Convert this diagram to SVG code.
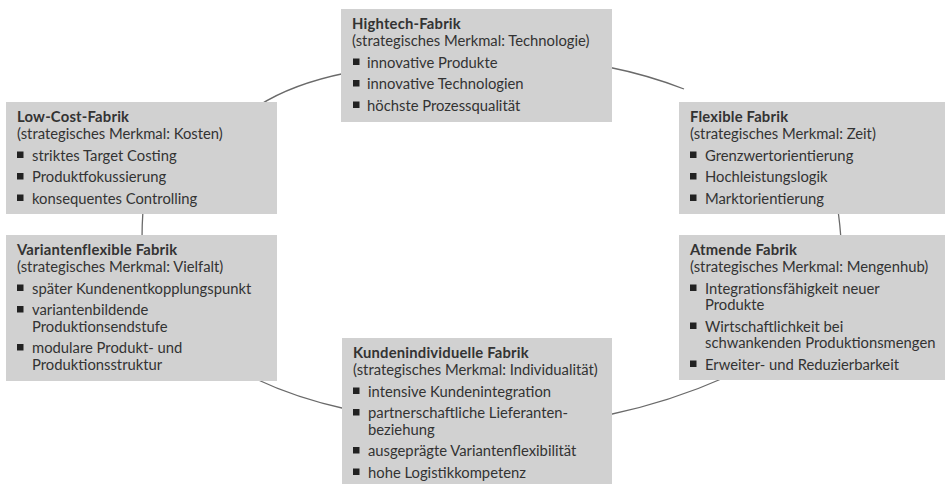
<svg xmlns="http://www.w3.org/2000/svg" width="945" height="484" viewBox="0 0 945 484">
  <style>
    .box { fill: #d1d1d1; }
    .link { fill: none; stroke: #6a6a6a; stroke-width: 1.3; }
    text { font-family: Lato, "Open Sans", "Liberation Sans", sans-serif; font-size: 14.8px; fill: #333333; }
    .title { font-weight: bold; letter-spacing: 0.2px; }
    .dot { fill: #222222; }
  </style>
  <defs>
    <rect id="bullet" width="6.5" height="6.5" class="dot"/>
  </defs>

  <rect width="945" height="484" fill="#ffffff"/>

  <!-- ring of connecting arcs, drawn beneath the boxes -->
  <g id="connectors">
    <path class="link" d="M258,106 Q292,84 346,73"/>
    <path class="link" d="M608,67 Q648,75 684,89"/>
    <path class="link" d="M838,210 Q840,225 841,239"/>
    <path class="link" d="M726,377 Q670,402 608,415"/>
    <path class="link" d="M256,379 Q296,398 346,409"/>
    <path class="link" d="M143,210 Q142,225 142,239"/>
  </g>

  <g id="hightech">
    <rect class="box" x="341" y="9" width="271" height="113"/>
    <text x="352" y="29"><tspan class="title">Hightech-Fabrik</tspan><tspan x="352" dy="17">(strategisches Merkmal: Technologie)</tspan></text>
    <use href="#bullet" x="353" y="58.5"/>
    <text x="367" y="67.5">innovative Produkte</text>
    <use href="#bullet" x="353" y="80"/>
    <text x="367" y="89">innovative Technologien</text>
    <use href="#bullet" x="353" y="101.5"/>
    <text x="367" y="110.5">höchste Prozessqualität</text>
  </g>

  <g id="lowcost">
    <rect class="box" x="6" y="102" width="271" height="112"/>
    <text x="17" y="122"><tspan class="title">Low-Cost-Fabrik</tspan><tspan x="17" dy="17">(strategisches Merkmal: Kosten)</tspan></text>
    <use href="#bullet" x="17" y="151.5"/>
    <text x="32" y="160.5">striktes Target Costing</text>
    <use href="#bullet" x="17" y="173"/>
    <text x="32" y="182">Produktfokussierung</text>
    <use href="#bullet" x="17" y="194.5"/>
    <text x="32" y="203.5">konsequentes Controlling</text>
  </g>

  <g id="flexibel">
    <rect class="box" x="679" y="102" width="266" height="112"/>
    <text x="690" y="122"><tspan class="title">Flexible Fabrik</tspan><tspan x="690" dy="17">(strategisches Merkmal: Zeit)</tspan></text>
    <use href="#bullet" x="690" y="151.5"/>
    <text x="705" y="160.5">Grenzwertorientierung</text>
    <use href="#bullet" x="690" y="173"/>
    <text x="705" y="182">Hochleistungslogik</text>
    <use href="#bullet" x="690" y="194.5"/>
    <text x="705" y="203.5">Marktorientierung</text>
  </g>

  <g id="variantenflexibel">
    <rect class="box" x="6" y="235" width="271" height="146"/>
    <text x="17" y="255"><tspan class="title">Variantenflexible Fabrik</tspan><tspan x="17" dy="17">(strategisches Merkmal: Vielfalt)</tspan></text>
    <use href="#bullet" x="17" y="284.5"/>
    <text x="32" y="293.5">später Kundenentkopplungspunkt</text>
    <use href="#bullet" x="17" y="306"/>
    <text x="32" y="315">variantenbildende<tspan x="32" dy="16.5">Produktionsendstufe</tspan></text>
    <use href="#bullet" x="17" y="344"/>
    <text x="32" y="353">modulare Produkt- und<tspan x="32" dy="16.5">Produktionsstruktur</tspan></text>
  </g>

  <g id="atmend">
    <rect class="box" x="679" y="235" width="266" height="145"/>
    <text x="690" y="255"><tspan class="title">Atmende Fabrik</tspan><tspan x="690" dy="17">(strategisches Merkmal: Mengenhub)</tspan></text>
    <use href="#bullet" x="690" y="284.5"/>
    <text x="705" y="293.5">Integrationsfähigkeit neuer<tspan x="705" dy="16.5">Produkte</tspan></text>
    <use href="#bullet" x="690" y="322.5"/>
    <text x="705" y="331.5">Wirtschaftlichkeit bei<tspan x="705" dy="16.5">schwankenden Produktionsmengen</tspan></text>
    <use href="#bullet" x="690" y="360.5"/>
    <text x="705" y="369.5">Erweiter- und Reduzierbarkeit</text>
  </g>

  <g id="kundenindividuell">
    <rect class="box" x="342" y="338" width="270" height="146"/>
    <text x="353" y="358"><tspan class="title">Kundenindividuelle Fabrik</tspan><tspan x="353" dy="17">(strategisches Merkmal: Individualität)</tspan></text>
    <use href="#bullet" x="353" y="387.5"/>
    <text x="368" y="396.5">intensive Kundenintegration</text>
    <use href="#bullet" x="353" y="409"/>
    <text x="368" y="418">partnerschaftliche Lieferanten-<tspan x="368" dy="16.5">beziehung</tspan></text>
    <use href="#bullet" x="353" y="447"/>
    <text x="368" y="456">ausgeprägte Variantenflexibilität</text>
    <use href="#bullet" x="353" y="468.5"/>
    <text x="368" y="477.5">hohe Logistikkompetenz</text>
  </g>
</svg>
